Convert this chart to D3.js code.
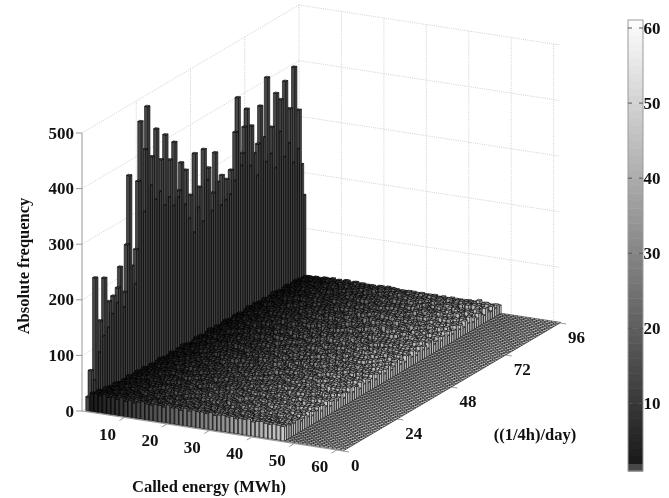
<!DOCTYPE html>
<html><head><meta charset="utf-8">
<script src="https://d3js.org/d3.v7.min.js"></script>
<style>html,body{margin:0;padding:0;background:#fff}svg{display:block}text{font-family:"Liberation Serif",serif;font-weight:bold;fill:#111}</style>
</head><body><svg id="c" width="669" height="498"></svg>
<script>
const energyTicks=[10,20,30,40,50,60];
const slotTicks=[0,24,48,72,96];
const freqTicks=[0,100,200,300,400,500];
const colorTicks=[10,20,30,40,50,60];
const emptyBins=[48,49,50,51,52,53,54,55,56,57,58,59,60,61];
const firstBin=[25,70,50,232,95,150,120,222,130,175,150,180,165,190,225,150,175,258,380,215,180,240,360,465,300,410,485,340,390,310,435,320,375,290,415,300,365,280,392,290,300,348,270,330,240,280,210,350,250,285,220,348,290,310,230,260,330,275,230,282,235,270,240,282,260,345,405,280,300,345,375,270,340,288,245,300,366,307,260,410,270,316,240,372,300,356,250,384,270,330,230,400,250,318,218,160];
const bins=[
[33,30,28,31,27,25,29,24,26,22,27,25,23,20,24,22,26,21,19,23,25,20,22,24,21,18,23,20,17,22,24,19,21,18,20,23,19,17,22,20,24,18,21,19,16,20,23,18,22,19,17,21,24,20,18,22,19,16,21,23,18,20,17,22,19,21,18,16,20,23,17,19,22,18,20,16,21,18,15,19,22,17,20,18,16,19,21,17,15,18,20,16,18,14,17,15],
[34,29,26,30,24,28,25,22,27,24,20,26,23,21,25,19,22,26,20,23,18,24,21,19,25,22,17,23,20,24,18,21,19,23,16,22,20,24,17,19,23,21,18,20,25,16,22,19,21,17,24,20,18,22,15,19,23,21,17,20,18,24,16,22,19,17,21,23,18,20,15,22,19,17,21,18,23,16,20,18,15,21,19,17,20,14,18,22,16,19,17,15,20,16,18,14],
[31,32,27,25,29,26,23,28,21,25,27,22,24,19,26,23,20,25,22,18,24,21,26,19,22,17,25,20,23,18,21,24,17,22,19,25,20,16,23,21,18,24,19,22,17,20,25,18,21,16,23,19,22,20,17,24,18,21,15,22,20,23,17,19,21,16,24,18,20,22,17,19,15,23,20,18,16,21,19,22,17,15,20,18,16,21,14,19,17,20,15,18,16,19,14,16],
[35,28,31,26,24,29,27,22,25,23,28,20,26,24,18,25,22,27,19,23,21,25,17,24,20,22,26,18,21,23,19,25,22,16,24,20,18,23,21,26,17,22,19,24,20,16,23,21,18,25,19,17,22,20,24,16,21,23,18,19,22,17,25,20,16,21,19,23,18,15,22,20,17,24,19,16,21,18,20,15,23,17,19,21,14,18,20,16,22,15,17,19,14,18,16,15],
[30,33,26,29,25,22,28,24,26,20,23,27,21,25,19,24,22,20,26,18,23,25,19,21,24,17,22,26,20,18,23,21,25,17,19,24,22,18,20,23,16,25,21,19,22,17,24,20,18,23,21,16,19,25,22,17,20,18,24,21,15,23,19,17,22,20,18,25,16,21,19,23,17,15,20,22,18,16,24,19,17,21,15,20,18,16,22,14,19,17,21,15,18,16,14,17],
[32,29,30,24,27,25,21,26,23,28,19,24,22,26,20,23,18,25,21,24,19,27,17,22,20,23,25,18,21,19,24,22,17,26,20,23,18,21,16,24,22,19,25,17,20,23,18,21,24,16,22,19,20,26,15,21,18,23,20,17,24,19,22,16,20,18,23,21,15,19,24,17,20,22,16,18,21,19,23,15,17,20,18,22,16,14,19,21,17,15,20,18,13,17,19,16],
[29,34,25,28,26,23,27,21,24,22,25,19,27,23,20,24,18,26,22,19,23,21,25,17,24,20,18,26,22,19,21,25,16,23,20,24,18,22,19,26,17,21,23,19,25,16,20,22,24,18,21,17,23,19,25,20,15,22,18,21,24,17,19,23,20,16,22,18,24,19,17,21,15,23,20,18,22,16,19,24,15,18,21,17,20,16,22,14,18,20,15,19,17,21,14,18],
[33,27,29,25,30,22,26,24,20,27,23,25,18,22,26,21,24,19,23,17,25,22,20,26,18,23,21,24,17,25,19,22,20,18,24,21,26,16,23,19,22,17,25,20,18,24,21,19,16,23,25,18,20,22,17,24,19,21,16,26,18,22,20,17,23,15,21,19,24,18,16,22,20,17,25,14,19,21,18,16,23,20,15,19,17,22,16,18,20,14,21,16,19,15,17,15],
[28,31,26,30,23,27,24,21,28,22,19,26,24,20,25,23,17,22,27,19,24,21,18,25,23,16,20,24,22,19,26,17,23,21,25,18,20,24,16,22,19,23,26,17,21,18,24,20,22,15,25,19,17,23,21,18,24,16,20,22,19,25,15,21,18,23,17,20,24,16,19,22,18,21,15,23,17,20,19,24,14,18,22,16,20,17,15,21,19,14,18,22,15,17,20,14],
[31,30,28,24,26,25,22,29,20,24,23,27,18,25,21,23,19,26,22,17,24,20,25,18,23,21,19,27,16,22,24,20,18,25,21,17,23,19,26,22,16,20,24,18,23,21,25,15,19,22,24,17,21,18,26,20,16,23,19,22,17,25,21,15,20,24,18,16,22,19,23,17,21,15,20,18,24,16,19,22,14,20,17,23,15,18,21,16,19,14,22,17,15,20,16,18],
[27,32,25,27,29,21,24,26,22,19,25,23,20,27,18,24,22,26,19,21,23,17,25,20,24,18,22,26,19,16,23,21,25,17,20,24,22,18,16,25,21,19,23,20,17,26,22,18,24,15,21,19,23,25,17,20,18,22,24,16,19,21,25,15,23,18,20,17,22,24,16,19,21,15,23,18,17,20,22,16,24,15,19,21,14,18,23,17,15,20,16,19,14,18,21,15],
[30,28,31,25,22,27,24,20,26,23,25,19,22,28,17,24,21,19,25,23,18,26,20,22,17,24,21,25,16,23,19,22,26,18,20,23,17,25,21,19,24,16,22,20,18,25,23,17,19,21,24,16,26,20,18,22,15,24,21,19,17,23,20,16,25,22,18,15,21,23,19,17,24,20,16,22,18,15,21,19,23,17,14,20,22,16,18,21,15,19,17,14,20,16,18,17],
[32,26,29,27,23,25,21,27,19,24,22,18,26,21,23,25,17,20,24,22,19,27,16,23,21,18,25,20,22,17,24,26,19,21,16,23,20,25,18,22,17,24,19,21,26,15,23,20,18,22,24,17,19,25,16,21,23,18,20,15,24,22,17,19,21,25,16,18,23,20,15,22,19,24,17,21,16,18,23,15,20,22,17,14,19,21,16,18,15,20,14,17,19,15,21,16],
[29,31,24,28,26,22,25,23,20,27,18,24,21,26,19,22,25,17,23,20,24,18,26,22,16,21,25,19,23,17,20,24,22,18,26,15,21,23,19,25,17,22,20,16,24,21,18,23,26,15,19,22,20,24,17,21,18,25,16,20,23,19,15,22,24,18,21,17,20,23,15,19,25,16,18,22,20,14,21,23,17,19,16,22,15,18,20,14,17,21,16,19,13,18,15,17],
[28,33,27,23,28,25,20,26,22,24,19,27,21,18,25,23,20,24,17,26,22,19,21,25,16,23,18,24,20,22,26,15,19,23,21,17,25,20,18,24,22,16,19,26,21,23,15,20,24,18,22,17,25,19,16,23,21,18,24,20,15,22,17,26,19,21,16,23,18,20,24,15,22,17,19,21,23,14,18,20,16,24,15,19,21,17,14,22,18,16,20,15,17,19,14,16],
[31,29,26,29,24,21,27,23,25,20,22,26,18,24,21,19,27,22,17,25,20,23,18,24,26,16,21,19,23,25,17,22,20,24,18,16,26,21,19,23,17,25,20,22,15,24,18,21,26,16,19,23,20,17,25,22,15,21,18,24,19,23,16,20,22,17,25,15,21,18,23,19,16,24,20,15,22,18,21,16,19,23,14,20,17,22,15,18,20,14,16,21,17,19,15,16],
[30,27,30,25,22,28,23,20,26,24,18,23,27,19,22,25,20,17,24,21,26,18,23,19,22,25,16,20,24,21,17,23,26,18,20,22,15,25,19,23,21,17,24,26,16,20,22,18,25,15,21,23,19,17,24,20,22,16,26,18,21,15,23,19,24,17,20,22,15,18,25,21,16,19,23,17,20,15,22,24,16,18,21,14,19,23,15,17,20,16,14,21,18,15,19,14],
[28,32,25,27,24,26,21,25,19,22,27,20,24,18,26,23,17,21,25,19,24,22,16,26,20,18,23,25,17,21,19,24,22,16,25,20,18,23,26,15,21,24,19,17,22,25,20,16,23,18,26,21,15,19,24,22,17,20,25,16,18,23,21,15,24,19,17,22,20,25,14,18,23,16,21,19,24,15,17,22,20,16,23,14,18,21,19,15,17,22,14,19,16,20,15,17],
[33,28,27,24,29,22,26,20,24,23,19,25,21,27,17,22,24,20,18,26,23,16,21,25,19,22,17,24,20,26,18,15,23,21,25,19,17,24,22,20,16,26,18,23,15,21,25,19,22,17,20,24,16,23,21,18,26,15,19,22,24,17,20,16,25,21,18,23,15,19,22,17,24,20,14,21,18,23,16,19,25,15,20,17,22,14,18,21,16,19,15,22,14,17,20,15],
[29,30,28,23,26,25,21,27,18,24,22,26,19,20,25,17,23,21,27,16,22,24,18,20,26,19,23,17,25,21,16,22,24,20,18,25,23,15,19,26,21,17,24,20,22,16,25,18,23,19,15,21,26,17,24,20,18,22,16,25,19,15,23,21,17,24,18,20,22,15,26,16,19,23,21,14,18,24,17,20,22,15,19,16,23,18,14,21,17,20,15,18,22,14,16,18],
[30,29,25,28,22,27,24,19,25,21,23,18,26,22,20,24,17,26,19,21,23,25,16,20,24,18,22,26,15,21,19,23,25,17,20,22,16,24,18,26,21,15,23,19,25,17,22,20,16,24,18,21,26,15,23,19,17,25,20,22,14,24,18,21,16,26,19,15,23,20,17,22,25,15,18,21,16,24,19,14,22,20,17,15,23,18,21,14,19,16,22,15,17,20,14,17],
[27,31,26,24,28,23,20,26,22,18,25,24,19,27,21,16,24,22,25,18,20,23,26,17,21,19,24,22,16,25,20,18,23,26,15,21,24,19,17,22,25,18,20,16,23,21,26,15,19,24,22,17,20,25,16,18,23,21,15,24,19,22,17,26,14,20,23,18,21,16,24,19,15,22,20,25,14,17,21,18,23,15,20,16,19,22,14,18,21,15,17,20,16,14,19,16],
[32,27,29,25,21,27,23,25,19,22,26,20,17,24,23,19,26,21,18,25,22,16,24,20,23,26,17,19,22,25,21,16,24,18,20,23,26,15,22,19,25,17,21,24,16,20,23,18,26,15,22,19,24,17,21,25,14,20,23,18,16,22,25,19,15,24,21,17,20,23,15,18,26,16,22,19,14,24,20,17,21,15,23,18,16,20,14,22,17,19,15,21,14,18,16,15],
[28,30,24,27,25,22,26,18,24,21,27,19,23,20,25,17,22,24,19,27,16,21,23,18,25,20,17,24,22,19,26,15,21,23,18,25,20,16,24,22,17,19,26,21,15,23,20,25,18,16,22,24,19,21,15,26,17,23,20,18,24,16,21,25,15,19,22,17,23,20,14,24,18,21,16,25,15,19,22,17,20,23,14,18,21,16,24,15,17,20,14,19,22,15,18,15],
[31,28,26,24,29,21,25,23,20,26,18,22,25,19,23,21,17,26,24,18,20,22,25,16,23,19,21,26,17,24,20,15,22,25,18,23,19,16,26,21,24,17,20,22,15,25,18,23,21,16,19,24,26,15,20,22,17,25,18,14,23,21,19,16,24,20,22,15,26,17,19,23,14,21,18,24,16,20,15,22,25,14,19,17,21,23,15,18,20,14,16,22,19,15,17,16],
[29,32,27,23,26,24,20,25,22,27,19,21,24,18,26,20,23,16,25,22,19,24,17,21,26,18,23,20,25,15,22,19,24,17,26,21,18,23,16,20,25,22,15,24,19,17,26,21,23,16,18,25,20,22,15,24,17,19,26,21,14,23,18,20,25,16,22,15,19,24,17,21,23,14,20,18,25,15,22,16,19,24,14,17,21,18,15,23,16,20,14,19,17,21,14,16],
[30,26,28,25,22,27,24,19,23,25,21,18,26,22,17,24,20,25,18,23,16,21,26,19,22,24,15,20,25,17,23,21,18,26,16,22,24,19,15,25,20,23,17,21,26,14,19,24,22,16,20,25,18,15,23,21,17,26,19,14,22,24,16,20,18,25,15,21,23,17,19,14,26,20,16,22,18,24,15,19,21,14,23,17,20,15,18,22,14,16,21,19,15,17,14,15],
[28,29,25,27,23,21,26,22,24,19,27,20,23,18,25,21,16,24,22,26,17,19,23,25,15,21,24,18,20,26,16,22,19,25,17,23,21,15,24,20,26,18,16,22,25,19,14,23,21,17,26,20,15,24,18,22,16,25,19,21,14,23,17,20,26,15,18,22,24,16,19,21,14,25,17,20,23,15,18,22,14,19,24,16,20,15,17,21,14,18,23,15,16,20,14,15],
[31,27,26,23,28,25,20,24,22,18,25,23,19,26,17,22,24,20,16,25,21,23,18,26,15,20,24,17,22,25,19,14,23,21,26,16,18,24,20,22,15,25,17,23,19,26,14,21,18,24,22,16,20,25,15,19,23,17,26,14,21,24,18,16,22,20,25,15,17,23,19,14,24,21,16,18,26,15,20,22,14,17,23,19,15,21,18,14,24,16,20,15,17,22,14,15],
[27,30,24,28,21,25,23,20,26,19,22,24,18,21,27,16,23,20,25,18,22,15,24,26,19,17,21,23,25,15,20,24,18,22,26,14,19,23,21,16,25,20,17,24,22,15,26,18,21,19,14,23,25,17,20,22,15,24,16,19,26,14,21,23,18,20,15,25,17,22,19,14,24,20,16,18,23,15,21,25,14,17,22,19,15,20,16,23,14,18,21,15,17,19,13,15],
[29,28,27,24,22,26,24,19,23,21,25,17,24,20,22,26,15,21,19,25,23,16,20,26,18,22,15,24,21,17,25,19,23,14,26,20,22,16,18,24,21,25,14,19,23,17,26,20,15,22,24,18,16,25,21,14,19,23,17,26,15,20,22,18,24,14,21,16,25,19,23,15,17,22,20,14,26,18,16,21,24,14,19,17,23,15,20,18,14,22,16,19,15,21,14,16],
[30,26,25,27,23,20,25,22,18,26,21,24,19,16,23,25,18,21,26,15,22,19,24,20,17,25,23,14,21,26,18,20,24,16,22,19,25,15,23,21,17,26,14,20,24,18,22,16,25,19,15,23,21,26,14,18,24,20,16,22,25,15,19,23,17,21,14,26,18,20,24,15,16,22,19,25,14,21,17,23,15,20,18,14,24,16,22,15,19,17,21,14,16,20,15,14],
[28,29,24,26,25,21,23,20,24,18,26,22,17,23,19,25,21,15,24,22,26,16,19,23,20,25,14,21,18,24,26,15,22,20,17,25,23,16,19,21,24,14,26,18,22,20,15,25,17,23,21,14,19,24,26,16,20,22,15,18,25,21,14,23,19,17,24,20,15,26,16,22,18,14,23,21,25,15,17,20,24,14,19,22,16,18,15,23,20,14,17,21,15,19,14,16],
[30,27,28,23,21,26,24,18,22,25,20,17,24,21,26,16,19,23,25,15,22,20,24,18,26,14,21,23,17,25,19,22,15,24,26,18,20,14,23,21,16,25,19,22,26,15,17,24,20,14,23,18,25,21,16,19,26,14,22,24,17,20,15,25,18,23,21,14,16,24,19,22,15,26,17,20,14,23,18,21,15,25,16,19,14,22,20,15,17,23,14,18,21,15,16,14],
[27,28,26,24,20,25,22,23,19,26,17,22,24,20,15,25,23,18,21,26,16,24,19,22,14,25,20,17,23,21,26,15,18,24,22,16,20,25,14,23,19,21,26,15,17,24,22,18,14,25,20,23,16,19,26,15,21,24,17,22,14,20,25,18,16,23,19,26,14,21,24,15,17,22,20,25,14,18,23,16,19,21,14,24,15,20,17,22,14,16,19,21,14,18,15,16],
[29,25,27,22,26,23,19,24,21,18,25,22,16,26,20,24,17,23,19,25,21,15,26,18,22,24,16,20,23,14,25,21,17,24,19,26,15,22,20,16,25,23,14,18,24,21,26,15,19,22,17,25,14,23,20,26,16,18,24,21,14,22,25,15,19,23,17,20,26,14,21,24,16,18,22,25,14,19,15,23,20,17,24,14,21,16,18,22,14,20,15,17,23,14,15,15],
[28,27,24,25,21,24,22,18,26,20,23,19,25,17,21,24,15,22,26,19,16,23,25,20,14,24,21,18,26,15,22,19,25,23,16,20,14,24,26,18,21,17,23,25,14,19,22,26,15,20,24,16,18,25,21,14,23,19,26,15,17,22,24,20,14,25,18,16,23,21,26,14,19,24,15,22,17,20,25,14,18,23,16,21,15,19,24,14,17,22,15,20,14,18,16,15],
[30,26,23,27,24,20,25,19,22,24,17,21,26,18,23,20,25,15,22,24,17,19,26,21,14,23,25,16,20,22,18,26,14,24,21,17,19,25,23,15,26,20,22,14,18,24,21,25,16,19,23,14,26,17,22,20,24,15,18,25,21,14,23,16,19,26,20,15,22,24,14,17,25,21,18,15,23,19,26,14,20,16,22,24,14,18,21,15,25,17,14,19,22,16,14,15],
[26,29,25,22,26,21,23,20,25,18,22,24,19,26,16,21,23,18,25,14,22,20,26,17,24,19,15,23,21,25,16,18,26,20,22,14,24,19,25,17,21,15,23,26,18,20,14,24,22,16,25,19,21,14,26,18,23,15,20,24,17,22,25,14,19,21,16,26,23,15,18,20,24,14,22,25,16,19,21,14,23,17,26,15,20,18,14,24,16,21,19,14,22,15,17,16],
[28,26,24,26,22,25,19,23,21,17,24,26,20,15,22,25,18,23,19,26,14,21,24,16,22,25,18,20,14,26,23,17,21,24,15,19,25,22,14,26,18,20,23,16,24,21,14,25,19,22,17,26,15,20,23,18,14,24,21,26,16,19,22,14,25,17,23,20,15,26,18,21,14,24,19,22,16,25,14,20,23,15,18,21,26,14,17,24,19,15,22,14,20,16,18,15],
[29,24,26,23,20,24,22,18,25,21,16,23,19,26,22,14,24,20,17,25,23,15,21,26,18,22,14,24,19,25,16,20,23,26,14,18,22,24,17,21,25,15,19,26,23,14,20,16,24,22,18,25,14,21,26,15,19,23,17,24,20,14,25,22,16,18,26,21,14,23,19,24,15,17,25,20,14,22,18,26,15,21,16,23,14,19,24,15,20,17,14,22,18,15,16,14],
[27,28,23,25,24,19,22,26,20,23,18,21,25,16,24,22,14,26,19,21,17,25,23,15,20,24,18,14,26,22,19,25,16,21,23,14,24,20,26,17,18,22,25,15,19,24,21,14,26,16,23,20,18,25,14,22,19,24,15,21,26,17,14,23,20,25,16,18,22,14,24,21,15,26,19,17,23,14,20,25,16,22,14,18,24,15,21,19,14,26,16,20,14,17,22,15],
[26,27,25,22,21,25,23,17,24,20,26,18,22,15,25,21,19,23,14,26,20,24,16,18,25,22,14,21,26,17,23,19,24,15,20,25,22,14,18,26,21,16,24,19,23,14,25,17,20,26,15,22,18,24,14,21,25,16,19,23,26,14,20,17,24,15,22,25,18,14,21,26,16,19,23,14,24,20,15,25,17,22,14,26,18,21,15,23,19,14,25,16,20,14,17,16],
[28,25,23,24,26,20,21,24,18,22,25,16,20,23,26,15,19,24,21,14,25,17,22,26,18,14,23,20,25,16,24,19,21,26,14,22,17,25,20,15,23,26,18,14,24,21,16,25,19,22,14,26,20,15,23,18,24,14,21,25,17,19,26,14,22,16,24,20,14,25,18,21,15,26,23,14,19,24,16,20,25,14,17,22,15,26,14,21,18,14,23,16,19,14,16,14],
[27,26,24,21,25,22,19,23,20,25,17,24,21,15,26,19,22,24,16,20,25,14,23,18,26,21,15,22,19,24,14,25,17,20,26,16,23,14,21,25,18,24,14,20,26,15,22,19,25,14,17,23,21,26,14,18,24,16,20,25,14,22,19,26,15,17,24,14,21,25,16,23,14,20,26,18,15,22,24,14,19,25,16,14,21,23,15,26,14,18,20,14,24,16,15,15],
[26,27,23,24,22,25,24,18,21,24,19,26,16,22,20,25,15,23,18,26,14,21,24,17,20,25,14,22,19,26,15,23,21,14,24,18,25,16,20,26,14,22,19,24,15,21,25,14,18,23,26,15,20,14,24,22,16,25,14,19,26,17,21,14,23,25,15,18,24,14,20,26,16,22,14,19,25,15,21,14,24,17,26,14,20,15,23,18,14,25,16,14,21,15,19,15]
];
const W=0.42;
const floorOrigin=[82,411];
const xE=d3.scaleLinear().domain([0,61.5]).range([0,261]);
const yE=d3.scaleLinear().domain([0,61.5]).range([0,40]);
const xV=d3.scaleLinear().domain([0,96]).range([0,217]);
const yV=d3.scaleLinear().domain([0,96]).range([0,-128]);
const zS=d3.scaleLinear().domain([0,500]).range([0,278]);
const P=(e,v,z=0)=>[floorOrigin[0]+xE(e)+xV(v),floorOrigin[1]+yE(e)+yV(v)-zS(z)];
const gray=d3.scaleLinear().domain([2,61]).range(["#1b1b1b","#ffffff"]);
const colorOf=e=>e===1?"#474747":gray(e);
const svg=d3.select("#c");
const line=d3.line();
const closed=pts=>line(pts)+"Z";
const chart=svg.append("g").style("filter","blur(0.5px)");
const eMax=61.5,vMax=96,zMax=500;
const walls=[];
freqTicks.forEach(z=>{walls.push([P(0,0,z),P(0,vMax,z)]);walls.push([P(0,vMax,z),P(eMax,vMax,z)]);});
slotTicks.forEach(v=>{if(v>0)walls.push([P(0,v,0),P(0,v,zMax)]);});
energyTicks.forEach(e=>walls.push([P(e,vMax,0),P(e,vMax,zMax)]));
chart.append("g").selectAll("path").data(walls).join("path").attr("d",line)
 .attr("fill","none").attr("stroke","#c4c4c4").attr("stroke-width",0.8).attr("stroke-dasharray","1 1.2");
const axisLines=[[P(0,0,0),P(0,0,zMax)],[P(0,0,0),P(eMax,0,0)],[P(eMax,0,0),P(eMax,vMax,0)]];
const tickLines=[];
freqTicks.forEach(z=>{const p=P(0,0,z);tickLines.push([p,[p[0]-6,p[1]]]);});
energyTicks.forEach(e=>{const p=P(e,0,0);tickLines.push([p,[p[0]-5,p[1]+3]]);});
slotTicks.forEach(v=>{const p=P(eMax,v,0);tickLines.push([p,[p[0]+6,p[1]+1]]);});
chart.append("g").selectAll("path").data(axisLines.concat(tickLines)).join("path").attr("d",line)
 .attr("fill","none").attr("stroke","#999").attr("stroke-width",1);
const rowOf=e=>e===1?firstBin:(emptyBins.includes(e)?null:bins[e-2]);
const faces=[];
for(let v=96;v>=1;v--){
 for(let e=1;e<=61;e++){
  const row=rowOf(e);
  const h=row?row[v-1]:0;
  const c=colorOf(e);
  if(h>0){
   faces.push({c,p:[P(e-W,v-W,0),P(e+W,v-W,0),P(e+W,v-W,h),P(e-W,v-W,h)]});
   faces.push({c,p:[P(e+W,v-W,0),P(e+W,v+W,0),P(e+W,v+W,h),P(e+W,v-W,h)]});
  }
  faces.push({c,p:[P(e-W,v-W,h),P(e+W,v-W,h),P(e+W,v+W,h),P(e-W,v+W,h)]});
 }
}
chart.append("g").selectAll("path").data(faces).join("path").attr("d",d=>closed(d.p))
 .attr("fill",d=>d.c).attr("stroke","#000").attr("stroke-width",0.55).attr("stroke-linejoin","round");
const cY=d3.scaleLinear().domain([1,61]).range([471,20.5]);
const cb=chart.append("g");
cb.selectAll("rect").data(d3.range(1,61)).join("rect")
 .attr("x",628).attr("width",15).attr("y",d=>cY(d+1)).attr("height",d=>cY(d)-cY(d+1)+0.5).attr("fill",colorOf);
cb.append("rect").attr("x",628).attr("y",20).attr("width",15).attr("height",451).attr("fill","none").attr("stroke","#9a9a9a");
cb.selectAll("path").data(colorTicks).join("path").attr("d",d=>`M628 ${cY(d)}h4M643 ${cY(d)}h-4`).attr("stroke","#555").attr("fill","none");
cb.selectAll("text").data(colorTicks).join("text").attr("x",643.5).attr("y",d=>cY(d)+5.5).attr("font-size",17).text(d=>d);
const lab=chart.append("g");
lab.selectAll(".z").data(freqTicks).join("text").attr("class","z").attr("text-anchor","end").attr("font-size",17)
 .attr("x",74).attr("y",d=>P(0,0,d)[1]+5.5).text(d=>d);
lab.selectAll(".e").data(energyTicks).join("text").attr("class","e").attr("text-anchor","middle").attr("font-size",17)
 .attr("x",d=>P(d,0,0)[0]-17).attr("y",d=>P(d,0,0)[1]+22).text(d=>d);
lab.selectAll(".v").data(slotTicks).join("text").attr("class","v").attr("text-anchor","start").attr("font-size",17)
 .attr("x",d=>P(eMax,d,0)[0]+(d===0?8:8)).attr("y",d=>P(eMax,d,0)[1]+19.5).text(d=>d);
lab.append("text").attr("transform","translate(29,266) rotate(-90)").attr("text-anchor","middle").attr("font-size",16.5).text("Absolute frequency");
lab.append("text").attr("x",209).attr("y",492).attr("text-anchor","middle").attr("font-size",16.5).text("Called energy (MWh)");
lab.append("text").attr("x",535).attr("y",440).attr("text-anchor","middle").attr("font-size",16.5).text("((1/4h)/day)");
</script></body></html>
